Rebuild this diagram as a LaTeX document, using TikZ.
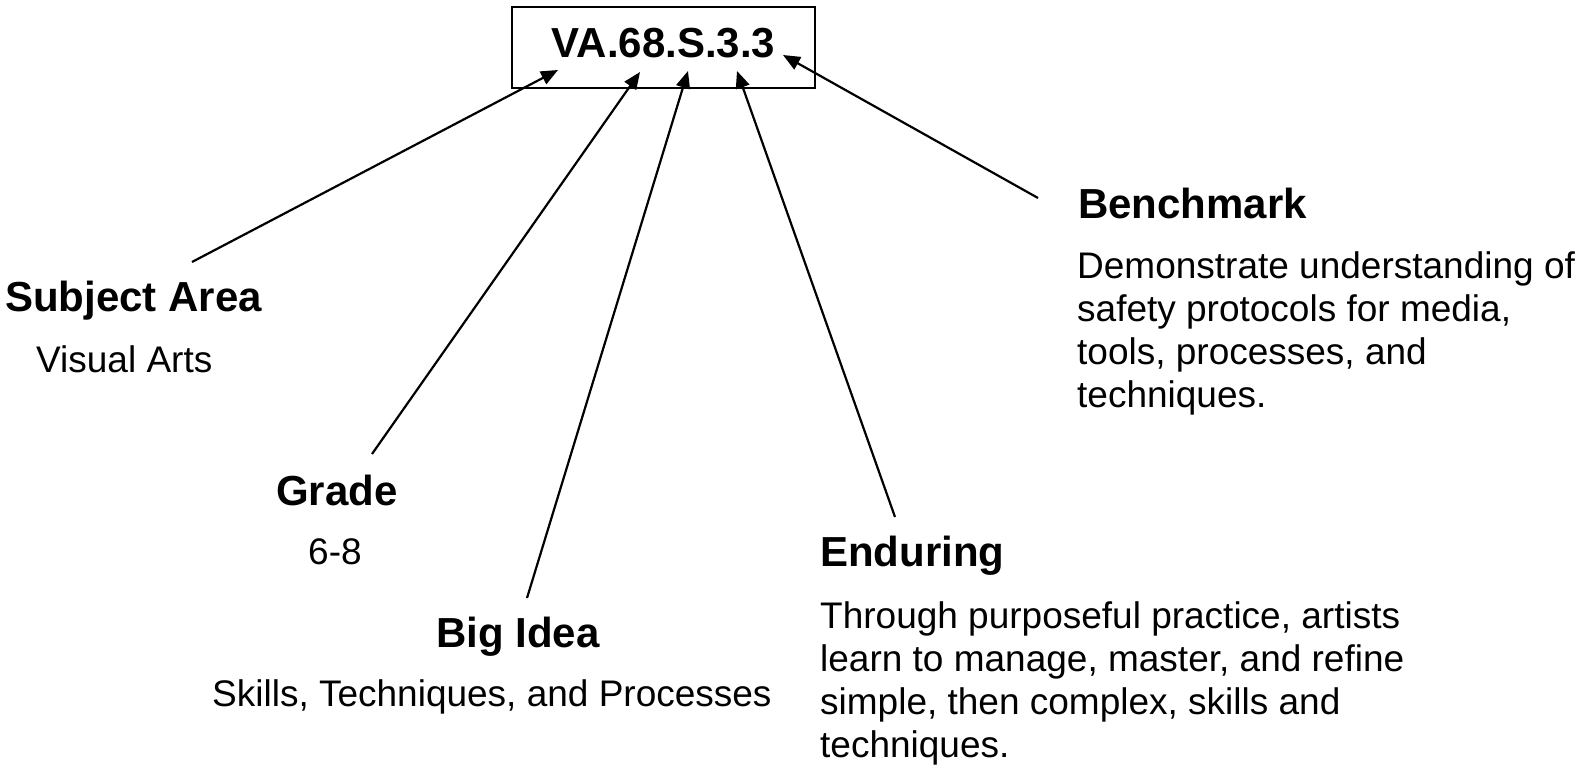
\documentclass[tikz,border=0pt]{standalone}
\usepackage{fontspec}
\setmainfont{Liberation Sans}
\usetikzlibrary{arrows.meta}
\tikzset{
  head/.style={font=\fontsize{42}{48}\selectfont\bfseries, inner sep=0pt, anchor=base west},
  body/.style={font=\fontsize{37}{43}\selectfont, inner sep=0pt, anchor=base west, align=left},
  pointer/.style={line width=2.2pt, -{Triangle[length=17pt,width=14pt]}},
  codebox/.style={draw, line width=2pt, minimum width=303pt, minimum height=81pt, inner sep=0pt,
    font=\fontsize{42}{48}\selectfont\bfseries, text height=30pt, text depth=11pt}
}
\begin{document}
\begin{tikzpicture}[x=1pt,y=-1pt]
\useasboundingbox (0,0) rectangle (1583,766);
\node[codebox] (code) at (663.5,47.5) {VA.68.S.3.3};

\node[head] (subj) at (5,311) {Subject Area};
\node[body] (subjt) at (36,372) {Visual Arts};
\node[head] (grade) at (276,505) {Grade};
\node[body] (gradet) at (308,564) {6-8};
\node[head] (big) at (436,647) {Big Idea};
\node[body] (bigt) at (212,706) {Skills, Techniques, and Processes};
\node[head] (end) at (820,566) {Enduring};
% base anchor of a multi-line node is the baseline of its last line
\node[body] (endt) at (820,757) {Through purposeful practice, artists\\learn to manage, master, and refine\\simple, then complex, skills and\\techniques.};
\node[head] (bench) at (1078,218) {Benchmark};
\node[body] (bencht) at (1077,407) {Demonstrate understanding of\\safety protocols for media,\\tools, processes, and\\techniques.};

\coordinate (t1) at (192,262);
\coordinate (t2) at (372,454);
\coordinate (t3) at (527,598);
\coordinate (t4) at (895,517);
\coordinate (t5) at (1038,198);
\coordinate (h1) at (558,70);
\coordinate (h2) at (640,72);
\coordinate (h3) at (688,71);
\coordinate (h4) at (737,71);
\coordinate (h5) at (783,55);

\draw[pointer] (t1) -- (h1);
\draw[pointer] (t2) -- (h2);
\draw[pointer] (t3) -- (h3);
\draw[pointer] (t4) -- (h4);
\draw[pointer] (t5) -- (h5);
\end{tikzpicture}
\end{document}
